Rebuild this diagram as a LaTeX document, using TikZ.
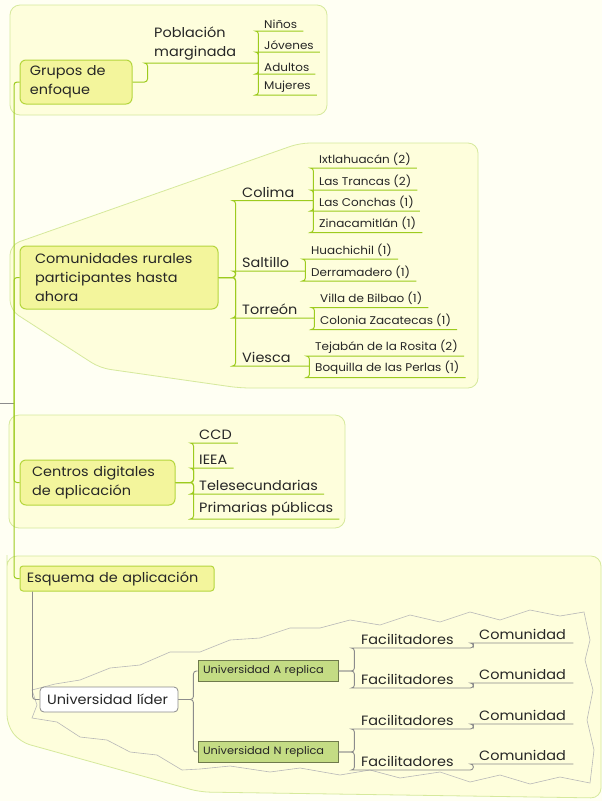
\documentclass[tikz,border=0pt]{standalone}
\usepackage{fontspec}
\setmainfont{Poppins}[FakeStretch=1.07]
\usetikzlibrary{positioning}

\definecolor{fondo}{HTML}{FFFFF3}
\definecolor{panel}{HTML}{FEFEDC}
\definecolor{bordepanel}{HTML}{D6E99C}
\definecolor{amarillo}{HTML}{F3F59C}
\definecolor{verdeborde}{HTML}{B5D63E}
\definecolor{verde}{HTML}{9DCB1E}
\definecolor{gris}{HTML}{8C8C8C}
\definecolor{grisclaro}{HTML}{B8B8B8}
\definecolor{verdereplica}{HTML}{C4DC84}
\definecolor{bordereplica}{HTML}{6F7A4C}
\definecolor{texto}{HTML}{262626}

\begin{document}
\begin{tikzpicture}[x=1pt,y=-1pt]
\tikzset{
  Panel/.style = {draw=bordepanel, fill=panel, line width=0.8pt, rounded corners=10pt},
  Tema/.style = {draw=verdeborde, fill=amarillo, line width=1pt, rounded corners=6pt,
                 align=left, text=texto, font=\fontsize{13.5}{19}\selectfont},
  Rama/.style = {draw=verde, line width=1pt, rounded corners=3pt},
  RamaGris/.style = {draw=gris, line width=0.9pt, rounded corners=3pt},
  Sub/.style = {anchor=south west, inner xsep=7pt, inner ysep=3pt, align=left,
                text=texto, font=\fontsize{13.5}{19}\selectfont},
  Hoja/.style = {anchor=south west, inner xsep=6pt, inner ysep=2.5pt,
                 text=texto, font=\fontsize{11.2}{12}\selectfont},
}

  \fill[fondo] (0,0) rectangle (602,801);
  \useasboundingbox (0,0) rectangle (602,801);

  % paneles
  \draw[Panel] (10,5) rectangle (327,115);
  \draw[Panel] (10,310) -- (10,245) -- (300,143) -- (478,143) -- (478,388)
               -- (240,388) -- (100,368) -- cycle;
  \draw[Panel] (9,415) rectangle (345,528);
  \draw[Panel] (7,565) -- (7,556) -- (601,556) -- (601,798) -- (200,792)
               -- (20,742) -- (7,725) -- cycle;

  % zona de replicas
  \draw[grisclaro, line width=0.6pt]
    (32,690) -- (55,684) -- (80,680) -- (110,668) -- (140,665) -- (170,652)
    -- (200,652) -- (230,640) -- (260,638) -- (290,628) -- (320,628) -- (350,620)
    -- (380,625) -- (410,615) -- (440,622) -- (470,612) -- (500,620) -- (530,610)
    -- (560,616) -- (584,612) -- (590,640) -- (585,660) -- (593,690) -- (587,720)
    -- (594,750) -- (590,783) -- (560,777) -- (530,784) -- (500,775) -- (470,782)
    -- (440,772) -- (400,778) -- (370,770) -- (340,775) -- (300,768) -- (270,772)
    -- (230,766) -- (200,769) -- (182,770) -- (157,755) -- (130,752) -- (107,740)
    -- (80,737) -- (57,722) -- (32,718) -- (37,705) -- cycle;

  % temas
  \node[Tema, text width=92pt, inner xsep=10pt, minimum height=44pt] (grupos) at (76,82)
       {Grupos de\\enfoque};
  \node[Tema, text width=168pt, inner xsep=15pt, minimum height=63pt] (com) at (119,277.5)
       {Comunidades rurales\\participantes hasta\\ahora};
  \node[Tema, text width=131pt, inner xsep=12pt, minimum height=45pt] (cen) at (97.5,482.5)
       {Centros digitales\\de aplicación};
  \node[Tema, text width=180pt, inner xsep=7pt, minimum height=25pt, rounded corners=3pt]
       (esq) at (117,578.5) {Esquema de aplicación};

  % grupos de enfoque
  \node[Sub, text width=97pt] (pob) at (147,63) {Población\\marginada};
  \node[Hoja] (ninos) at (258,31) {Niños};
  \node[Hoja] (jov) at (258,52) {Jóvenes};
  \node[Hoja] (adu) at (258,74) {Adultos};
  \node[Hoja] (muj) at (258,95) {Mujeres};

  % comunidades
  \node[Sub, text width=64pt] (colima) at (235,200.5) {Colima};
  \node[Sub, text width=56pt] (salt) at (235,271) {Saltillo};
  \node[Sub, text width=65pt] (torr) at (235,318) {Torreón};
  \node[Sub, text width=60pt] (vies) at (235,366) {Viesca};
  \node[Hoja] (ixt) at (313,168) {Ixtlahuacán (2)};
  \node[Hoja] (tra) at (313,190) {Las Trancas (2)};
  \node[Hoja] (con) at (313,211) {Las Conchas (1)};
  \node[Hoja] (zin) at (313,232.5) {Zinacamitlán (1)};
  \node[Hoja] (hua) at (305,259) {Huachichil (1)};
  \node[Hoja] (der) at (305,281) {Derramadero (1)};
  \node[Hoja] (vil) at (314,307.5) {Villa de Bilbao (1)};
  \node[Hoja] (col) at (314,329.5) {Colonia Zacatecas (1)};
  \node[Hoja] (tej) at (309,356) {Tejabán de la Rosita (2)};
  \node[Hoja] (boq) at (309,377.5) {Boquilla de las Perlas (1)};

  % centros digitales
  \node[Sub, inner xsep=6pt] (ccd) at (193,443) {CCD};
  \node[Sub, inner xsep=6pt] (ieea) at (193,468) {IEEA};
  \node[Sub, inner xsep=6pt] (tele) at (193,494) {Telesecundarias};
  \node[Sub, inner xsep=6pt] (prim) at (193,519) {Primarias públicas};

  % esquema de aplicacion
  \node[draw=gris, fill=white, line width=0.8pt, rounded corners=4pt, text=texto,
        text width=124pt, inner xsep=7pt, minimum height=25pt,
        font=\fontsize{13.5}{16}\selectfont] (lider) at (109,699.5) {Universidad líder};
  \begin{scope}
    \tikzset{Rep/.style = {draw=bordereplica, fill=verdereplica, line width=0.8pt,
             text=texto, text width=130pt, inner xsep=5pt, minimum height=21pt,
             font=\fontsize{10.6}{11}\selectfont}}
    \node[Rep] (repA) at (268,671) {Universidad A replica};
    \node[Rep] (repN) at (268,752) {Universidad N replica};
  \end{scope}

  \node[Sub, text width=105pt] (fac1) at (354,648) {Facilitadores};
  \node[Sub, text width=105pt] (fac2) at (354,688) {Facilitadores};
  \node[Sub, text width=105pt] (fac3) at (354,729) {Facilitadores};
  \node[Sub, text width=105pt] (fac4) at (354,770) {Facilitadores};
  \node[Sub, inner xsep=6pt, text width=88pt] (comu1) at (473,643) {Comunidad};
  \node[Sub, inner xsep=6pt, text width=88pt] (comu2) at (473,683) {Comunidad};
  \node[Sub, inner xsep=6pt, text width=88pt] (comu3) at (473,724) {Comunidad};
  \node[Sub, inner xsep=6pt, text width=88pt] (comu4) at (473,764) {Comunidad};

  % tronco
  \coordinate (raiz) at (0,403);
  \coordinate (tronco) at (14,403);
  \draw[RamaGris] (raiz) -- (tronco);
  \draw[Rama] (tronco) |- (grupos.west);
  \draw[Rama] (tronco) |- (com.west);
  \draw[Rama] (tronco) |- (cen.west);
  \draw[Rama] (tronco) |- (esq.west);

  % ramas
  \draw[Rama] (grupos.east) -- ++(15,0) |- (pob.south west) -- (pob.south east);
  \foreach \h in {ninos,jov,adu,muj}
    \draw[Rama] (pob.south east) |- (\h.south west) -- (\h.south east);

  \foreach \s in {colima,salt,torr,vies}
    \draw[Rama] (com.east) -- ++(17,0) |- (\s.south west) -- (\s.south east);
  \foreach \h in {ixt,tra,con,zin}
    \draw[Rama] (colima.south east) |- (\h.south west) -- (\h.south east);
  \foreach \h in {hua,der}
    \draw[Rama] (salt.south east) |- (\h.south west) -- (\h.south east);
  \foreach \h in {vil,col}
    \draw[Rama] (torr.south east) |- (\h.south west) -- (\h.south east);
  \foreach \h in {tej,boq}
    \draw[Rama] (vies.south east) |- (\h.south west) -- (\h.south east);

  \foreach \s in {ccd,ieea,tele,prim}
    \draw[Rama] (cen.east) -- ++(18,0) |- (\s.south west) -- (\s.south east);

  \draw[RamaGris] ([xshift=13pt]esq.south west) |- (lider.west);
  \draw[RamaGris] (lider.east) -- ++(15,0) |- (repA.west);
  \draw[RamaGris] (lider.east) -- ++(15,0) |- (repN.west);
  \foreach \f/\c in {fac1/comu1,fac2/comu2}
    \draw[RamaGris] (repA.east) -- ++(16,0) |- (\f.south west) -- (\f.south east)
                    |- (\c.south west) -- (\c.south east);
  \foreach \f/\c in {fac3/comu3,fac4/comu4}
    \draw[RamaGris] (repN.east) -- ++(16,0) |- (\f.south west) -- (\f.south east)
                    |- (\c.south west) -- (\c.south east);

\end{tikzpicture}
\end{document}
